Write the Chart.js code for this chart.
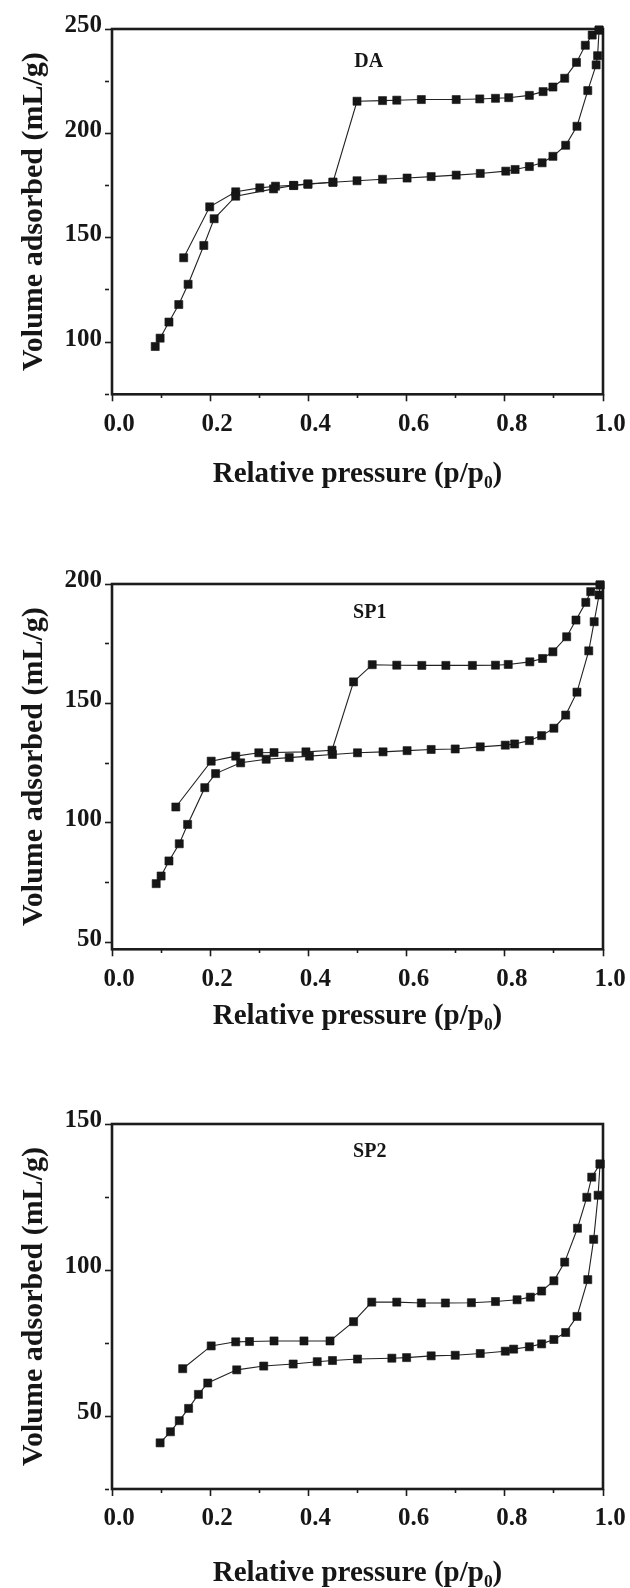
<!DOCTYPE html>
<html>
<head>
<meta charset="utf-8">
<script src="https://cdn.jsdelivr.net/npm/chart.js@4.4.1/dist/chart.umd.min.js"></script>
<style>
  html, body { margin: 0; padding: 0; background: #fff; }
  canvas { position: absolute; left: 0; }
  #c1 { top: 0; }
  #c2 { top: 520px; }
  #c3 { top: 1040px; }
</style>
</head>
<body>
<canvas id="c1" width="630" height="500"></canvas>
<canvas id="c2" width="630" height="520"></canvas>
<canvas id="c3" width="630" height="548"></canvas>
<script>
// x axis (shared)
const xTicks = [0, 0.1, 0.2, 0.3, 0.4, 0.5, 0.6, 0.7, 0.8, 0.9, 1.0];
const xLabeled = [0, 0.2, 0.4, 0.6, 0.8, 1.0];

// DA
const daAdsX = [0.088, 0.098, 0.116, 0.136, 0.155, 0.187, 0.208, 0.252, 0.329, 0.370, 0.399, 0.450, 0.499, 0.551, 0.601, 0.650, 0.701, 0.750, 0.802, 0.821, 0.850, 0.876, 0.898, 0.924, 0.947, 0.969, 0.986, 0.989, 0.992];
const daAdsY = [97.9, 101.9, 109.6, 118.0, 127.7, 146.3, 159.1, 169.9, 173.4, 175.0, 175.6, 176.6, 177.3, 178.0, 178.6, 179.3, 180.0, 180.8, 181.9, 182.7, 184.1, 185.9, 189.0, 194.3, 203.4, 220.5, 232.8, 237.2, 249.5];
const daDesX = [0.992, 0.978, 0.964, 0.946, 0.922, 0.898, 0.878, 0.850, 0.808, 0.781, 0.749, 0.701, 0.630, 0.580, 0.551, 0.499, 0.450, 0.399, 0.370, 0.333, 0.301, 0.252, 0.199, 0.146];
const daDesY = [249.5, 247.1, 242.2, 234.0, 226.4, 222.2, 220.0, 218.2, 217.1, 216.8, 216.5, 216.2, 216.2, 215.9, 215.7, 215.4, 176.6, 175.8, 175.1, 174.7, 173.9, 172.0, 164.8, 140.4];
const daYMajor = [100, 150, 200, 250];
const daYMinor = [75, 125, 175, 225];

// SP1
const sp1AdsX = [0.090, 0.100, 0.116, 0.137, 0.154, 0.189, 0.211, 0.262, 0.314, 0.361, 0.402, 0.449, 0.500, 0.552, 0.601, 0.650, 0.699, 0.750, 0.801, 0.820, 0.850, 0.875, 0.900, 0.924, 0.947, 0.971, 0.982, 0.992, 0.994];
const sp1AdsY = [74.5, 77.7, 84.0, 91.2, 99.3, 114.7, 120.6, 125.1, 126.6, 127.3, 127.9, 128.6, 129.3, 129.7, 130.2, 130.7, 130.9, 131.8, 132.5, 133.0, 134.4, 136.5, 139.6, 145.1, 154.7, 172.0, 184.2, 195.4, 199.6];
const sp1DesX = [0.994, 0.975, 0.965, 0.945, 0.926, 0.898, 0.877, 0.851, 0.807, 0.781, 0.734, 0.680, 0.631, 0.580, 0.530, 0.492, 0.448, 0.395, 0.330, 0.299, 0.252, 0.202, 0.130];
const sp1DesY = [199.6, 196.8, 192.3, 184.9, 177.9, 171.6, 168.8, 167.4, 166.3, 166.0, 165.9, 165.9, 165.9, 166.0, 166.2, 159.0, 130.4, 129.7, 129.4, 129.3, 127.9, 125.8, 106.6];
const sp1YMajor = [50, 100, 150, 200];
const sp1YMinor = [75, 125, 175];

// SP2
const sp2AdsX = [0.098, 0.119, 0.137, 0.156, 0.176, 0.195, 0.254, 0.309, 0.369, 0.418, 0.449, 0.500, 0.570, 0.600, 0.650, 0.699, 0.750, 0.801, 0.818, 0.850, 0.875, 0.900, 0.924, 0.947, 0.969, 0.981, 0.990, 0.994];
const sp2AdsY = [40.8, 44.6, 48.4, 52.6, 57.4, 61.3, 65.8, 67.1, 67.8, 68.6, 69.0, 69.5, 69.8, 70.0, 70.6, 70.8, 71.4, 72.2, 72.9, 73.7, 74.7, 76.2, 78.6, 84.1, 96.7, 110.5, 125.6, 136.3];
const sp2DesX = [0.994, 0.977, 0.967, 0.948, 0.922, 0.900, 0.875, 0.852, 0.825, 0.781, 0.732, 0.679, 0.630, 0.580, 0.529, 0.492, 0.444, 0.391, 0.330, 0.280, 0.252, 0.202, 0.144];
const sp2DesY = [136.3, 131.8, 124.9, 114.3, 102.7, 96.3, 92.8, 90.7, 89.8, 89.2, 88.8, 88.7, 88.7, 89.0, 89.0, 82.3, 75.7, 75.7, 75.7, 75.5, 75.4, 74.0, 66.2];
const sp2YMajor = [50, 100, 150];
const sp2YMinor = [25, 75, 125];

const FONT = "'Liberation Serif', 'Times New Roman', serif";
const INK = '#161616';

const pts = (xs, ys) => xs.map((x, i) => ({ x: x, y: ys[i] }));
const near = (arr, v) => arr.some(a => Math.abs(a - v) < 1e-6);

// box round the plot area
const framePlugin = {
  id: 'frame',
  beforeDatasetsDraw(chart) {
    const { ctx, chartArea: a } = chart;
    ctx.save();
    ctx.strokeStyle = '#1c1c1c';
    ctx.lineWidth = 2.6;
    ctx.strokeRect(a.left, a.top, a.right - a.left, a.bottom - a.top);
    ctx.restore();
  }
};

// sample name inside the plot
const namePlugin = {
  id: 'sampleName',
  afterDatasetsDraw(chart, args, opts) {
    const { ctx, scales } = chart;
    ctx.save();
    ctx.font = 'bold 20px ' + FONT;
    ctx.fillStyle = INK;
    ctx.textAlign = 'center';
    ctx.textBaseline = 'middle';
    ctx.fillText(opts.text, scales.x.getPixelForValue(opts.at[0]), scales.y.getPixelForValue(opts.at[1]));
    ctx.restore();
  }
};

function makePanel(id, p) {
  const canvas = document.getElementById(id);
  const yTicks = p.yMajor.concat(p.yMinor).sort((a, b) => a - b);
  const branch = (data) => ({
    data: data,
    borderColor: '#222',
    borderWidth: 1.1,
    pointStyle: 'rect',
    pointRadius: 5.7,
    pointBackgroundColor: INK,
    pointBorderColor: INK,
    pointBorderWidth: 0.6,
    tension: 0,
    clip: false
  });
  const axisGrid = {
    drawOnChartArea: false,
    drawTicks: true,
    tickLength: 7,
    tickColor: '#1c1c1c',
    tickWidth: 1.6
  };
  return new Chart(canvas, {
    type: 'line',
    data: {
      datasets: [branch(pts(p.adsX, p.adsY)), branch(pts(p.desX, p.desY))]
    },
    options: {
      responsive: false,
      animation: false,
      layout: { padding: { top: p.top, right: 27, left: 0, bottom: 0 } },
      plugins: {
        legend: { display: false },
        tooltip: { enabled: false },
        sampleName: { text: p.name, at: p.nameAt }
      },
      scales: {
        x: {
          type: 'linear',
          min: 0,
          max: 1,
          border: { display: false },
          grid: Object.assign({}, axisGrid, {
            // minor ticks drawn shorter
            tickBorderDash: (ctx) => (ctx.tick && !near(xLabeled, ctx.tick.value) ? [4, 30] : [])
          }),
          afterBuildTicks: (s) => { s.ticks = xTicks.map(v => ({ value: v })); },
          afterFit: (s) => { s.height = canvas.height - p.bottom; },
          ticks: {
            autoSkip: false,
            maxRotation: 0,
            padding: 8,
            labelOffset: 7,
            color: INK,
            font: { family: FONT, size: 25, weight: 'bold' },
            callback: (v) => (near(xLabeled, v) ? v.toFixed(1) : '')
          },
          title: {
            display: true,
            text: 'Relative pressure (p/p\u2080)',
            color: INK,
            font: { family: FONT, size: 29, weight: 'bold' },
            padding: { top: 0, bottom: p.titlePad }
          }
        },
        y: {
          type: 'linear',
          min: p.yMin,
          max: p.yMax,
          border: { display: false },
          grid: Object.assign({}, axisGrid, {
            tickBorderDash: (ctx) => (ctx.tick && !p.yMajor.includes(ctx.tick.value) ? [4, 30] : [])
          }),
          afterBuildTicks: (s) => { s.ticks = yTicks.map(v => ({ value: v })); },
          afterFit: (s) => { s.width = 112; },
          ticks: {
            autoSkip: false,
            padding: 3,
            labelOffset: -3,
            color: INK,
            font: { family: FONT, size: 25, weight: 'bold' },
            callback: (v) => (p.yMajor.includes(v) ? String(v) : '')
          },
          title: {
            display: true,
            text: 'Volume adsorbed (mL/g)',
            color: INK,
            font: { family: FONT, size: 30, weight: 'bold' },
            padding: { top: 16, bottom: 0 }
          }
        }
      }
    },
    plugins: [framePlugin, namePlugin]
  });
}

makePanel('c1', {
  name: 'DA', nameAt: [0.523, 234.5],
  adsX: daAdsX, adsY: daAdsY, desX: daDesX, desY: daDesY,
  yMin: 75, yMax: 250, yMajor: daYMajor, yMinor: daYMinor,
  top: 29, bottom: 394.3, titlePad: 8
});
makePanel('c2', {
  name: 'SP1', nameAt: [0.525, 187.8],
  adsX: sp1AdsX, adsY: sp1AdsY, desX: sp1DesX, desY: sp1DesY,
  yMin: 47, yMax: 200, yMajor: sp1YMajor, yMinor: sp1YMinor,
  top: 64, bottom: 429.3, titlePad: 6
});
makePanel('c3', {
  name: 'SP2', nameAt: [0.525, 140.4],
  adsX: sp2AdsX, adsY: sp2AdsY, desX: sp2DesX, desY: sp2DesY,
  yMin: 25, yMax: 150, yMajor: sp2YMajor, yMinor: sp2YMinor,
  top: 84, bottom: 449, titlePad: -3
});
</script>
</body>
</html>
